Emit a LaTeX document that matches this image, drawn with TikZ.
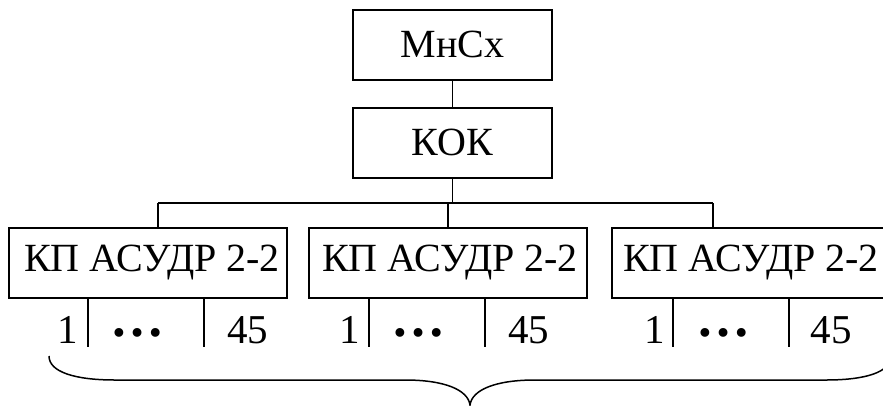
\documentclass[tikz,border=0pt]{standalone}
\usepackage{fontspec}
\setmainfont{Liberation Serif}
\begin{document}
\begin{tikzpicture}[x=1pt,y=-1pt,
  box/.style={draw, line width=2pt, inner sep=0pt,
              font=\fontsize{40}{48}\selectfont},
  topbox/.style={box, minimum width=199pt, minimum height=70pt},
  kpbox/.style={box, minimum width=278pt, minimum height=70pt},
  link/.style={line width=1.6pt},
  num/.style={font=\fontsize{41}{48}\selectfont, anchor=base, inner sep=0pt},
  dots/.style={font=\fontsize{54}{60}\selectfont\bfseries, anchor=base, inner sep=0pt},
]
\useasboundingbox (0,0) rectangle (883,405);
\clip (0,0) rectangle (883,405);

% upper levels
\node[topbox] (mn)  at (452.5,44.5)  {МнСх};
\node[topbox] (kok) at (452.5,142.5) {КОК};
\draw[link] (mn.south) -- (kok.north);

% control points
\node[kpbox] (kp1) at (148,262.5) {\hspace{8pt}КП АСУДР 2-2};
\node[kpbox] (kp2) at (448,262.5) {\hspace{4pt}КП АСУДР 2-2};
\node[kpbox] (kp3) at (751,262.5) {КП АСУДР 2-2};

% bus
\coordinate (b1) at (158,203);
\coordinate (b2) at (448,203);
\coordinate (b3) at (713,203);
\draw[link] (kok.south) -- (kok.south |- b2);
\draw[link] (b1) -- (b3);
\draw[link] (b1) -- (b1 |- kp1.north);
\draw[link] (b2) -- (b2 |- kp2.north);
\draw[link] (b3) -- (b3 |- kp3.north);

% channel separators under each box
\foreach \k/\a/\b in {kp1/88/204, kp2/369/485, kp3/673/789} {
  \coordinate (\k-sa) at (\a,347);
  \coordinate (\k-sb) at (\b,347);
  \draw[link] (\k.south -| \k-sa) -- (\k-sa);
  \draw[link] (\k.south -| \k-sb) -- (\k-sb);
}

% channel numbers
\foreach \one/\mid/\last [count=\i] in {68/137/247.5, 350/418/528.5, 654.5/723/831} {
  \node[num]  (n1-\i)  at (\one,343)  {1};
  \node[dots] (nd-\i)  at (\mid,336)  {…};
  \node[num]  (n45-\i) at (\last,343) {45};
}

% brace spanning all channels
\draw[line width=1.5pt]
  (49,356) .. controls (49,372) and (75,380) .. (115,380)
  -- (405,380) .. controls (445,380) and (468,390) .. (470,405)
  .. controls (472,390) and (495,380) .. (535,380)
  -- (826,380) .. controls (866,380) and (891,372) .. (891,356);
\end{tikzpicture}
\end{document}
